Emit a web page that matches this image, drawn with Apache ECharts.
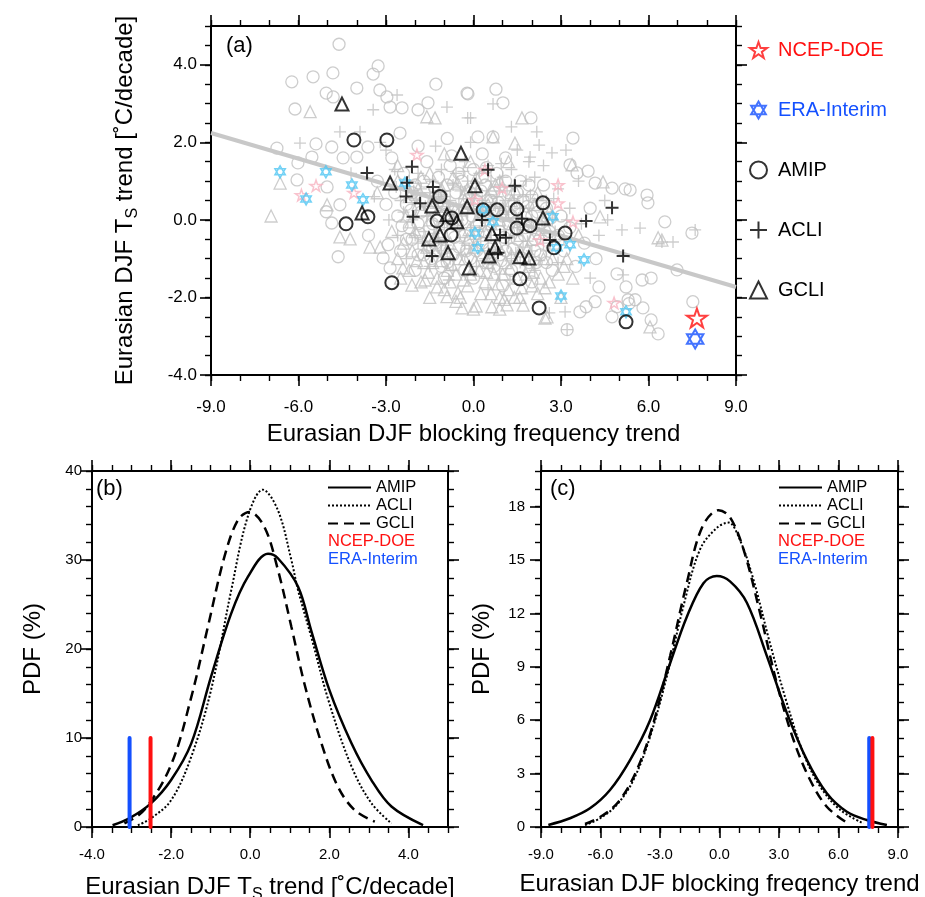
<!DOCTYPE html>
<html><head><meta charset="utf-8">
<script src="https://cdn.jsdelivr.net/npm/echarts@6/dist/echarts.min.js"></script>
<style>html,body{margin:0;padding:0;background:#fff}#c{width:925px;height:897px}</style>
</head><body><div id="c"></div>
<script>
// ---------------- DATA ----------------
// Panel (a): scatter [blocking trend, Ts trend]
const grayAMIP = [
 [-4.61,4.53],[-3.27,3.97],[-3.44,3.76],[-4.82,3.79],[-5.5,3.69],[-6.23,3.56],[-5.05,3.27],[-4.81,3.17],[-4.0,3.4],[-3.21,3.35],
 [-6.12,2.86],[-2.97,3.17],[-2.86,2.91],[-2.45,2.89],[-1.29,3.5],[-1.56,3.02],[-1.9,2.84],[-6.74,1.85],[-5.4,1.96],[-6.02,1.47],
 [-6.05,1.03],[-5.02,0.85],[-5.54,1.62],[-4.86,1.88],[-4.47,1.6],[-4.0,1.62],[-0.22,3.27],[-2.52,2.24],[-3.62,1.88],[-0.19,3.25],
 [0.77,3.37],[1.01,3.02],[1.97,2.63],[3.41,2.11],[0.15,2.14],[0.67,2.14],[3.31,1.42],[3.93,1.26],[3.55,1.21],[4.17,0.95],
 [4.75,0.82],[5.2,0.8],[5.37,0.77],[5.95,0.64],[5.98,0.44],[6.56,-0.05],[7.49,-0.34],[6.98,-1.29],[6.09,-1.5],[5.78,-1.55],
 [5.3,-2.06],[5.54,-2.06],[5.81,-2.27],[6.09,-2.58],[6.33,-2.94],[7.52,-2.11],[4.75,-2.5],[3.21,-2.83],[3.65,-2.37],[3.86,-2.24],
 [4.3,-1.73],[4.92,-1.39],[5.23,-1.73],[4.17,-2.11],[4.92,-2.24],[5.33,-2.16],[-4.64,-0.95],[-4.86,-0.08],[-5.05,0.21],[-4.58,0.39],
 [-3.1,-0.98],[-2.86,-1.24],[-2.93,-0.64],
 [-2.8,1.6],[-2.4,1.2],[-2.0,0.9],[-1.6,1.5],[-1.2,1.1],[-0.8,1.4],[-0.4,1.0],[0.0,1.3],[0.4,0.9],[0.8,1.2],
 [1.2,0.7],[1.6,1.0],[2.0,0.6],[2.4,0.9],[-3.0,0.4],[-2.6,0.1],[-2.2,-0.2],[-1.8,0.2],[-1.4,-0.1],[-1.0,0.4],
 [-0.6,0.7],[-0.2,0.3],[0.2,-0.1],[0.6,0.5],[1.0,0.1],[1.4,0.4],[1.8,-0.2],[2.2,0.2],[2.6,-0.3],[3.0,0.1],
 [-2.5,-0.8],[-2.1,-0.5],[-1.7,-0.9],[-1.3,-0.6],[-0.9,-1.1],[-0.5,-0.7],[-0.1,-1.0],[0.3,-0.6],[0.7,-1.2],[1.1,-0.8],
 [1.5,-0.5],[1.9,-1.1],[2.3,-0.9],[2.7,-1.3],[3.1,-0.8],[3.5,-1.2],[-1.9,1.9],[-0.9,2.1],[0.3,1.7],[1.1,1.6],
 [-3.3,1.0],[-3.6,-0.4],[3.8,-0.6],[4.2,-1.0],[2.0,-1.6],[1.0,-1.7],[0.0,-1.5],[-1.0,-1.5],[-2.0,-1.3],[4.0,0.3],
 [-2.3,0.4],[-1.9,-0.1],[-1.5,0.3],[-1.1,-0.4],[-0.7,0.2],[-0.3,-0.4],[0.1,0.5],[0.5,0.1],[0.9,-0.3],[1.3,0.1],
 [1.7,0.5],[2.1,-0.5],[2.5,0.3],[-2.1,0.7],[-1.7,1.0],[-1.3,0.6],[-0.9,0.9],[-0.5,1.2],[-0.1,0.7],[0.3,1.1],
 [0.7,0.7],[1.1,1.0],[1.5,0.7],[1.9,0.9],[-2.3,-0.5],[-1.9,-0.9],[-1.5,-0.7],[-1.1,-1.2],[-0.7,-0.9],[-0.3,-1.3],
 [0.1,-0.8],[0.5,-1.1],[0.9,-0.9],[1.3,-1.3],[1.7,-1.0],[2.1,-0.8],[2.5,-1.1],[2.9,-0.4],[3.3,-0.2],[-2.7,0.7],
 [-0.4,0.0],[0.4,-0.3],[1.2,-0.1],[-1.2,0.1],[2.0,0.1],
 [-2.15,0.25],[-1.75,0.55],[-1.35,0.85],[-0.95,0.15],[-0.55,-0.15],[-0.15,0.55],[0.25,0.75],[0.65,0.25],[1.05,-0.45],[1.45,-0.05],
 [1.85,0.35],[2.25,-0.15],[-1.85,-0.35],[-1.45,-1.0],[-1.05,-0.75],[-0.65,-0.45],[-0.25,-0.8],[0.15,-0.35],[0.55,-0.75],[0.95,-1.05],
 [1.35,-0.75],[1.75,-0.4],[2.15,-1.1],[-0.05,0.1],[0.85,0.45],[-1.25,0.45],[2.65,0.05],[-2.45,-0.15],[0.45,1.35],[-0.75,1.65]
];
const grayACLI = [
 [-0.2,2.63],[-0.1,2.63],[0.67,2.99],[2.17,2.27],[2.25,1.93],[2.69,1.73],[3.17,1.8],[1.94,1.62],[-5.95,1.98],[-2.62,3.22],
 [-0.91,2.91],[-3.44,2.84],[-3.89,2.27],[-4.58,2.27],[5.09,-0.26],[5.71,-0.21],[6.46,-0.57],[6.84,-0.57],[5.13,-1.42],[3.14,-2.37],
 [3.21,-2.83],[7.6,-0.26],[-4.2,1.2],[-3.2,2.0],[1.3,2.4],[4.6,0.0],[4.0,-1.5],[2.6,-2.4],
 [-2.7,1.3],[-2.3,0.8],[-1.9,1.2],[-1.5,0.7],[-1.1,1.3],[-0.7,0.9],[-0.3,1.5],[0.1,0.8],[0.5,1.4],[0.9,0.9],
 [1.3,1.3],[1.7,0.6],[2.1,1.1],[2.5,0.5],[2.9,0.8],[3.3,0.3],[-2.9,0.0],[-2.5,0.5],[-2.1,0.0],[-1.7,-0.3],
 [-1.3,0.3],[-0.9,-0.2],[-0.5,0.4],[-0.1,-0.2],[0.3,0.5],[0.7,0.0],[1.1,0.5],[1.5,-0.2],[1.9,0.3],[2.3,-0.4],
 [2.7,0.0],[3.1,-0.5],[-2.3,-1.0],[-1.9,-0.6],[-1.5,-1.2],[-1.1,-0.8],[-0.7,-1.3],[-0.3,-0.6],[0.1,-1.2],[0.5,-0.8],
 [0.9,-1.4],[1.3,-1.0],[1.7,-0.7],[2.1,-1.3],[2.5,-0.8],[2.9,-1.1],[-1.3,1.9],[-0.1,2.0],[1.5,1.8],[3.6,1.0],
 [3.7,-0.1],[4.3,-0.4],[-3.4,0.6],[0.5,-1.8],[-0.8,0.0],[0.9,0.3],[1.9,1.5],[2.4,1.4],[-3.0,1.8],[4.5,0.5],
 [-2.4,0.2],[-2.0,0.5],[-1.6,0.1],[-1.2,0.7],[-0.8,0.5],[-0.4,0.1],[0.0,0.4],[0.4,0.2],[0.8,0.6],[1.2,0.2],
 [1.6,0.3],[2.0,0.0],[2.4,0.2],[-2.2,1.0],[-1.8,0.8],[-1.4,1.0],[-1.0,0.6],[-0.6,1.2],[-0.2,1.0],[0.2,1.2],
 [0.6,1.0],[1.0,1.1],[1.4,0.5],[1.8,1.0],[-2.0,-0.4],[-1.6,-0.8],[-1.2,-0.5],[-0.8,-1.0],[-0.4,-0.9],[0.0,-0.5],
 [0.4,-1.0],[0.8,-0.7],[1.2,-0.6],[1.6,-1.1],[2.0,-0.8],[2.4,-0.6],[2.8,-0.3],[3.2,0.0],[-0.2,0.2],[0.6,-0.4],
 [1.4,-0.4],[-1.0,-0.1],[-2.6,-0.4],[2.2,0.5],[0.2,-0.3],
 [-2.05,0.75],[-1.65,0.35],[-1.25,-0.15],[-0.85,0.25],[-0.45,0.75],[-0.05,0.55],[0.35,0.05],[0.75,0.35],[1.15,0.75],[1.55,0.05],
 [1.95,0.65],[2.35,-0.05],[-1.75,-0.55],[-1.35,-0.35],[-0.95,-0.65],[-0.55,-0.25],[-0.15,-0.75],[0.25,-0.55],[0.65,-1.15],[1.05,-0.25],
 [1.45,-0.85],[1.85,-0.55],[2.25,-1.05],[0.05,0.15],[-0.35,1.25],[0.95,1.45],[2.75,0.55],[-2.65,0.85],[1.25,-1.55],[-0.85,-1.55]
];
const grayGCLI = [
 [-6.94,0.1],[-6.63,0.95],[-5.6,2.79],[-1.6,2.66],[-1.32,2.63],[-5.02,0.39],[-4.58,-0.44],[-4.23,-0.49],[-3.55,-0.7],[-2.42,-1.24],
 [-2.11,-1.68],[-1.66,-1.55],[-1.25,-1.73],[-0.91,-1.98],[-0.39,-2.27],[-0.53,-1.88],[0.09,-2.22],[2.45,-2.53],[6.05,-2.76],[6.33,-0.46],
 [6.46,-0.52],[4.34,0.08],[1.15,-2.19],[0.63,-2.24],[0.9,-2.0],[1.59,-2.0],[3.38,1.42],[4.44,0.98],[2.52,-2.5],[1.66,2.63],
 [0.67,2.14],[1.42,1.98],[-2.6,1.4],[-3.3,0.7],
 [-2.6,1.0],[-2.2,0.6],[-1.8,1.1],[-1.4,0.5],[-1.0,0.9],[-0.6,0.3],[-0.2,0.8],[0.2,0.3],[0.6,0.8],[1.0,0.3],
 [1.4,0.8],[1.8,0.2],[2.2,0.7],[2.6,0.2],[-2.8,-0.3],[-2.4,-0.6],[-2.0,-0.3],[-1.6,-0.7],[-1.2,-0.3],[-0.8,-0.6],
 [-0.4,-0.3],[0.0,-0.7],[0.4,-0.3],[0.8,-0.6],[1.2,-0.3],[1.6,-0.8],[2.0,-0.5],[2.4,-1.0],[2.8,-0.6],[3.2,-1.0],
 [-2.2,-1.3],[-1.8,-1.6],[-1.4,-1.1],[-1.0,-1.8],[-0.6,-1.4],[-0.2,-1.7],[0.2,-1.3],[0.6,-1.9],[1.0,-1.4],[1.4,-2.0],
 [1.8,-1.4],[2.2,-1.9],[2.6,-1.6],[3.0,-2.0],[3.4,-1.5],[0.0,-2.3],[-0.6,-2.1],[0.9,-2.3],[1.7,-2.2],[-1.5,-2.0],
 [-2.6,-1.0],[3.6,-0.4],[-3.2,-0.7],[-0.1,1.5],[1.2,1.5],[-1.0,1.7],[0.5,-1.1],[-0.3,-1.0],[1.3,-0.9],[2.9,-1.4],
 [-2.3,0.1],[-1.9,0.4],[-1.5,0.0],[-1.1,0.5],[-0.7,0.0],[-0.3,0.5],[0.1,0.0],[0.5,0.4],[0.9,0.0],[1.3,0.5],
 [1.7,-0.1],[2.1,0.4],[2.5,-0.2],[-2.1,-0.8],[-1.7,-1.1],[-1.3,-0.8],[-0.9,-1.3],[-0.5,-1.0],[-0.1,-1.4],[0.3,-0.9],
 [0.7,-1.4],[1.1,-1.1],[1.5,-1.5],[1.9,-1.2],[2.3,-1.5],[2.7,-1.0],[-1.9,0.8],[-1.5,1.2],[-1.1,0.8],[-0.7,1.1],
 [-0.3,0.7],[0.1,1.1],[0.5,0.6],[0.9,1.0],[1.3,0.2],[-2.5,-1.5],[-0.8,-1.6],[0.4,-1.6],[1.2,-1.8],[2.0,-1.7],
 [3.1,-1.2],[-0.2,-0.5],[0.6,-0.1],[1.6,-0.4],[-1.0,-0.7],
 [-2.15,-0.05],[-1.75,0.25],[-1.35,-0.45],[-0.95,0.35],[-0.55,0.15],[-0.15,-0.25],[0.25,0.15],[0.65,-0.35],[1.05,0.15],[1.45,-0.25],
 [1.85,-0.75],[2.25,-0.35],[-1.95,-1.05],[-1.55,-1.35],[-1.15,-1.05],[-0.75,-1.15],[-0.35,-1.55],[0.05,-1.05],[0.45,-1.35],[0.85,-1.65],
 [1.25,-1.25],[1.65,-1.75],[2.05,-1.35],[2.45,-1.75],[-0.45,-2.0],[0.25,-1.9],[1.05,-2.05],[-1.25,-1.5],[0.75,0.9],[-0.55,0.95]
];
const pinkStars = [[-5.4,0.88],[-5.9,0.64],[-4.1,0.7],[-1.94,1.68],[0.39,1.29],[0.05,0.52],[0.98,0.82],[2.9,0.9],[2.9,0.43],[3.41,-0.05],[2.28,-0.52],[4.82,-2.14]];
const cyanHex = [[-6.63,1.24],[-5.06,1.24],[-4.17,0.9],[-5.74,0.54],[-3.79,0.52],[-2.35,0.95],[0.05,-0.34],[0.15,-0.72],[0.67,-0.05],[0.33,0.26],[2.72,0.08],[3.31,-0.64],[2.86,-0.72],[3.79,-1.03],[3.0,-1.96],[5.23,-2.37]];
const blackAMIP = [[-4.1,2.06],[-2.97,2.06],[-4.37,-0.1],[-3.62,0.08],[-2.8,-1.62],[-1.15,0.6],[-1.25,-0.03],[-0.74,0.05],[-0.77,-0.39],[0.33,0.26],[0.81,0.26],[1.49,0.28],[2.38,0.44],[1.49,-0.21],[1.94,-0.15],[3.14,-0.34],[2.76,-0.72],[1.59,-1.52],[2.25,-2.27],[5.23,-2.63]];
const blackACLI = [[-3.65,1.21],[-2.11,1.37],[-2.28,0.96],[-1.39,0.85],[-2.31,0.6],[-1.83,0.43],[-2.07,0.08],[-1.42,-0.93],[0.5,1.29],[1.42,0.88],[0.29,0],[1.66,0.03],[4.75,0.31],[3.86,-0.03],[0.91,-0.39],[1.11,-0.46],[0.84,-0.85],[2.62,-0.52],[5.13,-0.93]];
const blackGCLI = [[-4.51,2.99],[-0.43,1.72],[-2.86,0.95],[-3.82,0.18],[-1.42,0.36],[-0.91,0.13],[-0.57,-0.05],[-1.53,-0.49],[-1.15,-0.39],[-0.87,-0.85],[-0.15,-1.24],[-0.22,0.34],[0.05,0.88],[2.38,0.05],[0.63,-0.36],[0.74,-0.72],[0.53,-0.93],[1.59,-0.95],[1.9,-0.98]];
const ncepPoint = [[7.66,-2.53]];
const eraPoint = [[7.6,-3.07]];
const regX = [-9, 9];
const regY = [2.24, -1.73];

// Panel (b): PDF of Ts trend
const bAmipX = [-3.48,-3.06,-2.51,-2.0,-1.49,-0.99,-0.48,-0.06,0.45,0.7,1.21,1.54,2.0,2.56,3.06,3.57,4.37];
const bAmipY = [0.2,0.97,2.66,5.28,9.4,16.9,24.0,28.1,30.7,30.2,27.0,22.1,15.4,9.4,5.3,2.3,0.2];
const bAcliX = [-2.84,-2.51,-2.0,-1.49,-0.99,-0.48,-0.06,0.32,0.7,1.04,1.21,1.54,2.0,2.56,3.06,3.57];
const bAcliY = [0.2,0.97,3.0,7.9,15.4,26.6,34.9,37.9,35.6,30.0,26.6,21.4,13.9,6.8,2.7,0.4];
const bGcliX = [-3.18,-2.68,-2.0,-1.49,-1.07,-0.65,-0.31,-0.02,0.36,0.7,1.04,1.37,1.8,2.22,2.64,3.15];
const bGcliY = [0.4,1.9,7.0,14.6,22.5,30.4,34.5,35.4,33.7,28.9,22.5,16.1,9.4,4.5,1.9,0.6];
const bObsNCEP = -2.52, bObsERA = -3.05, bObsH = 10;

// Panel (c): PDF of blocking frequency trend
const cAmipX = [-8.63,-7.54,-6.53,-5.52,-4.51,-3.5,-2.49,-1.65,-0.81,-0.14,0.53,1.38,2.39,3.4,4.41,5.41,6.42,7.43,8.44];
const cAmipY = [0.11,0.49,1.05,2.08,3.76,6.0,9.2,11.8,13.7,14.1,13.8,12.6,9.6,6.4,3.76,1.9,0.86,0.39,0.11];
const cAcliX = [-6.78,-6.02,-5.18,-4.34,-3.5,-2.66,-1.82,-0.98,-0.14,0.45,1.04,1.71,2.55,3.4,4.23,5.08,6.09,7.26];
const cAcliY = [0.11,0.49,1.24,2.64,5.07,8.44,12.4,15.6,16.8,17.1,16.1,13.9,10.3,6.95,4.14,2.26,0.96,0.2];
const cGcliX = [-6.78,-5.86,-5.02,-4.17,-3.34,-2.49,-1.65,-0.89,-0.05,0.53,1.21,2.05,2.89,3.73,4.57,5.41,6.34];
const cGcliY = [0.17,0.67,1.52,3.2,5.8,9.6,13.7,16.8,17.8,17.4,15.6,12.0,8.07,4.9,2.64,1.14,0.3];
const cObsNCEP = 7.71, cObsERA = 7.55, cObsH = 5;

// Tick values
const aXTicks = [-9,-6,-3,0,3,6,9];
const aYTicks = [-4,-2,0,2,4];
const bXTicks = [-4,-2,0,2,4];
const bYTicks = [0,10,20,30,40];
const cXTicks = [-9,-6,-3,0,3,6,9];
const cYTicks = [0,3,6,9,12,15,18];

// ---------------- STYLE ----------------
const FONT = '"Liberation Sans", Arial, Helvetica, sans-serif';
const STAR = 'path://M50,2 L61.8,36.3 L97.6,36.3 L68.7,57.5 L79.4,91.7 L50,70.6 L20.6,91.7 L31.3,57.5 L2.4,36.3 L38.2,36.3 Z';
const HEX = 'path://M50,0 L93.3,75 L6.7,75 Z M50,100 L6.7,25 L93.3,25 Z';
const PLUS = 'path://M0,50 L100,50 M50,0 L50,100';
const GRAY = '#c0c0c0', RED = '#ff1010', BLUE = '#1450ff';
const zip = (xs, ys) => xs.map((x, i) => [x, ys[i]]);
const f1 = v => v.toFixed(1);
const f0 = v => String(Math.round(v));

const gA = {left:211, top:26, width:525, height:349, outerBoundsMode:'none', containLabel:false};
const gB = {left:92, top:471, width:356, height:356, outerBoundsMode:'none', containLabel:false};
const gC = {left:541, top:471, width:357, height:356, outerBoundsMode:'none', containLabel:false};
const grids = [gA, Object.assign({}, gA), gB, Object.assign({}, gB), gC, Object.assign({}, gC)];

function axis(gi, pos, c, main, first) {
  const o = {gridIndex: gi, type:'value', min:c.min, max:c.max, position:pos,
    splitLine:{show:false}, axisPointer:{show:false},
    axisLine:{show: main, onZero:false, lineStyle:{color:'#000', width:2}}};
  if (main) {
    o.axisTick = {show:true, inside:false, length:11, customValues:c.majors, lineStyle:{color:'#000', width:1.6}};
    o.axisLabel = {show:first, customValues:c.majors, formatter:c.fmt, margin:c.margin, fontSize:c.fs, color:'#000', fontFamily:FONT};
    if (first && c.name) {
      o.name = c.name; o.nameLocation = 'middle'; o.nameGap = c.nameGap;
      o.nameTextStyle = {fontSize:24, color:'#000', fontFamily:FONT, rich:{s:{fontSize:16, fontFamily:FONT, color:'#000', padding:[15,0,0,0]}}};
    }
  } else {
    o.interval = c.minor;
    o.axisTick = {show:true, inside:false, length:6, lineStyle:{color:'#000', width:1.4}};
    o.axisLabel = {show:false};
  }
  return o;
}
const xCfg = [
  {min:-9, max:9, majors:aXTicks, minor:1, fmt:f1, margin:24, fs:17, name:'Eurasian DJF blocking frequency trend', nameGap:47},
  {min:-4, max:5, majors:bXTicks, minor:0.5, fmt:f1, margin:20, fs:15, name:'Eurasian DJF T{s|S} trend [˚C/decade]', nameGap:45},
  {min:-9, max:9, majors:cXTicks, minor:1, fmt:f1, margin:20, fs:15, name:'Eurasian DJF blocking freqency trend', nameGap:45}
];
const yCfg = [
  {min:-4, max:5, majors:aYTicks, minor:0.5, fmt:f1, margin:14, fs:17, name:'Eurasian DJF T{s|S} trend [˚C/decade]', nameGap:70},
  {min:0, max:40, majors:bYTicks, minor:2, fmt:f0, margin:10, fs:15, name:'PDF (%)', nameGap:47},
  {min:0, max:20, majors:cYTicks, minor:1, fmt:f0, margin:16, fs:15, name:'PDF (%)', nameGap:47}
];
const xAxis = [], yAxis = [];
for (let p = 0; p < 3; p++) {
  const gm = 2*p, gn = 2*p+1;
  xAxis.push(axis(gm,'bottom',xCfg[p],true,true), axis(gm,'top',xCfg[p],true,false),
             axis(gn,'bottom',xCfg[p],false,false), axis(gn,'top',xCfg[p],false,false));
  yAxis.push(axis(gm,'left',yCfg[p],true,true), axis(gm,'right',yCfg[p],true,false),
             axis(gn,'left',yCfg[p],false,false), axis(gn,'right',yCfg[p],false,false));
}

function sc(name, data, symbol, size, color, bw, z) {
  return {type:'scatter', name, data, symbol, symbolSize:size, symbolKeepAspect:true,
    xAxisIndex:0, yAxisIndex:0, z,
    itemStyle:{color:'rgba(0,0,0,0)', borderColor:color, borderWidth:bw},
    emphasis:{disabled:true}, silent:true};
}
function ln(name, p, data, color, width, type, z) {
  return {type:'line', name, data, xAxisIndex:4*p, yAxisIndex:4*p, showSymbol:false, symbol:'none',
    smooth: type === 'obs' ? false : 0.35, z,
    lineStyle:{color, width, type: type === 'obs' ? 'solid' : type, cap: type === 'obs' ? 'round' : 'butt'},
    itemStyle:{color}, emphasis:{disabled:true}, silent:true};
}

const series = [
  sc('gAMIP', grayAMIP, 'circle', 12, GRAY, 1.3, 2),
  sc('gACLI', grayACLI, PLUS, 12, GRAY, 1.3, 2),
  sc('gGCLI', grayGCLI, 'triangle', 12, GRAY, 1.3, 2),
  {type:'line', name:'reg', data: zip(regX, regY), xAxisIndex:0, yAxisIndex:0, showSymbol:false, symbol:'none', z:3,
   lineStyle:{color:'#c8c8c8', width:4}, silent:true},
  sc('pink', pinkStars, STAR, 12, '#f7b3c0', 1.5, 4),
  sc('cyan', cyanHex, HEX, 12, '#4fc6f2', 1.5, 4),
  sc('AMIP', blackAMIP, 'circle', 13, '#000', 2, 5),
  sc('ACLI', blackACLI, PLUS, 13, '#000', 2, 5),
  sc('GCLI', blackGCLI, 'triangle', 13, '#000', 2, 5),
  sc('NCEP-DOE', ncepPoint, STAR, 20, RED, 2, 6),
  sc('ERA-Interim', eraPoint, HEX, 19, BLUE, 2, 6),
  ln('AMIP_b', 1, zip(bAmipX, bAmipY), '#000', 2.5, 'solid', 3),
  ln('ACLI_b', 1, zip(bAcliX, bAcliY), '#000', 2, [2,2], 3),
  ln('GCLI_b', 1, zip(bGcliX, bGcliY), '#000', 2.5, [10,6], 3),
  ln('NCEP-DOE_b', 1, [[bObsNCEP,0],[bObsNCEP,bObsH]], RED, 4, 'obs', 4),
  ln('ERA-Interim_b', 1, [[bObsERA,0],[bObsERA,bObsH]], BLUE, 4, 'obs', 4),
  ln('AMIP_c', 2, zip(cAmipX, cAmipY), '#000', 2.5, 'solid', 3),
  ln('ACLI_c', 2, zip(cAcliX, cAcliY), '#000', 2, [2,2], 3),
  ln('GCLI_c', 2, zip(cGcliX, cGcliY), '#000', 2.5, [10,6], 3),
  ln('ERA-Interim_c', 2, [[cObsERA,0],[cObsERA,cObsH]], BLUE, 4, 'obs', 4),
  ln('NCEP-DOE_c', 2, [[cObsNCEP,0],[cObsNCEP,cObsH]], RED, 4, 'obs', 4)
];

const fmtName = n => n.split('_')[0];
const lineLegend = (suffix, left) => ({
  orient:'vertical', left, top:479, padding:0, itemWidth:43, itemHeight:10, itemGap:1, selectedMode:false,
  formatter:fmtName, itemStyle:{opacity:0},
  textStyle:{fontSize:16.5, lineHeight:17, color:'#000', fontFamily:FONT},
  data:['AMIP','ACLI','GCLI'].map(n => ({name:n+suffix}))
});
const obsLegend = (suffix, left) => ({
  orient:'vertical', left, top:533, padding:0, itemWidth:0, itemHeight:1, itemGap:1, selectedMode:false,
  formatter:fmtName, icon:'rect', itemStyle:{color:'rgba(0,0,0,0)', borderWidth:0},
  textStyle:{fontSize:16.5, lineHeight:17, fontFamily:FONT},
  data:[{name:'NCEP-DOE'+suffix, textStyle:{color:RED}}, {name:'ERA-Interim'+suffix, textStyle:{color:BLUE}}]
});
const legIcon = (c, w) => ({color:'rgba(0,0,0,0)', borderColor:c, borderWidth:w});

const option = {
  animation:false,
  backgroundColor:'#fff',
  grid: grids,
  xAxis, yAxis, series,
  title: [
    {text:'(a)', left:226, top:35, padding:0, textStyle:{fontSize:22, fontWeight:'normal', color:'#000', fontFamily:FONT}},
    {text:'(b)', left:96, top:478, padding:0, textStyle:{fontSize:22, fontWeight:'normal', color:'#000', fontFamily:FONT}},
    {text:'(c)', left:550, top:478, padding:0, textStyle:{fontSize:22, fontWeight:'normal', color:'#000', fontFamily:FONT}}
  ],
  legend: [
    {orient:'vertical', left:749, top:40, padding:0, itemWidth:17, itemHeight:17, itemGap:40, selectedMode:false,
     textStyle:{fontSize:20, color:'#000', fontFamily:FONT, padding:[0,0,0,6]},
     data:[
       {name:'NCEP-DOE', icon:STAR, itemStyle:legIcon(RED,2), textStyle:{color:RED, padding:[0,0,0,6]}},
       {name:'ERA-Interim', icon:HEX, itemStyle:legIcon(BLUE,2), textStyle:{color:BLUE, padding:[0,0,0,6]}},
       {name:'AMIP', icon:'circle', itemStyle:legIcon('#000',2)},
       {name:'ACLI', icon:PLUS, itemStyle:legIcon('#000',2)},
       {name:'GCLI', icon:'triangle', itemStyle:legIcon('#000',2)}
     ]},
    lineLegend('_b', 327), obsLegend('_b', 323),
    lineLegend('_c', 778), obsLegend('_c', 773)
  ]
};
const chart = echarts.init(document.getElementById('c'), null, {renderer:'canvas'});
chart.setOption(option);
</script></body></html>
